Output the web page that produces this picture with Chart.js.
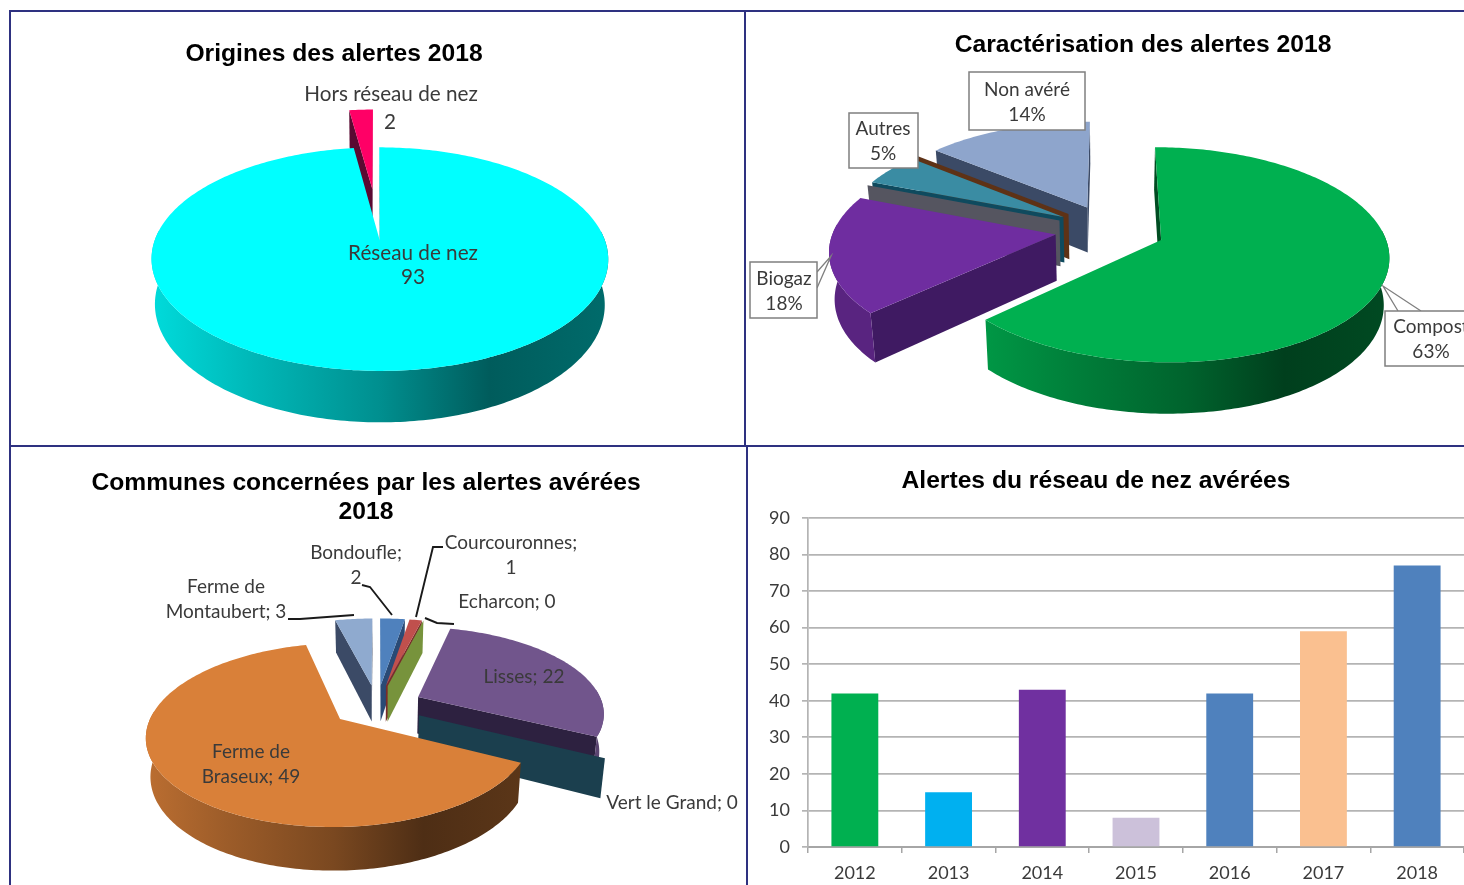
<!DOCTYPE html>
<html lang="fr"><head><meta charset="utf-8"><title>Alertes 2018</title>
<script src="https://cdn.jsdelivr.net/npm/chart.js@4"></script>
<style>
html,body{margin:0;padding:0;background:#fff;overflow:hidden;width:1464px;height:885px}
canvas{position:absolute;display:block;filter:blur(.45px)}
.b{position:absolute;background:#2e3180}
</style></head><body>
<canvas id="c1" style="left:0;top:0" width="744" height="445"></canvas>
<canvas id="c2" style="left:745px;top:0" width="719" height="445"></canvas>
<canvas id="c3" style="left:0;top:446px" width="744" height="439"></canvas>
<canvas id="c4" style="left:728px;top:448px" width="736" height="437"></canvas>
<div class="b" style="left:9px;top:10px;width:1455px;height:2px"></div>
<div class="b" style="left:9px;top:445px;width:1455px;height:2px"></div>
<div class="b" style="left:9px;top:10px;width:2px;height:875px"></div>
<div class="b" style="left:744px;top:10px;width:2px;height:436px"></div>
<div class="b" style="left:746px;top:446px;width:2px;height:439px"></div>
<script>
// ---------- data ----------
const origineLabels = ['Réseau de nez', 'Hors réseau de nez'];
const origineValues = [93, 2];
const caracLabels = ['Compost', 'Biogaz', '', 'Autres', '', 'Non avéré'];
const caracValues = [63, 18, 0, 5, 0, 14];
const communeLabels = ['Bondoufle', 'Courcouronnes', 'Echarcon', 'Lisses', 'Vert le Grand', 'Ferme de Braseux', 'Ferme de Montaubert'];
const communeValues = [2, 1, 0, 22, 0, 49, 3];
const annees = ['2012', '2013', '2014', '2015', '2016', '2017', '2018'];
const alertesValues = [42, 15, 43, 8, 42, 59, 77];

// ---------- styles ----------
const origineColors = ['#00ffff', '#ff0066'];
const origineFaces = ['#006666', '#5a0a32'];
const caracColors = ['#00b050', '#6f2da0', '#555560', '#3a8ca3', '#5e3216', '#8ea5cc'];
const caracFaces = ['#004d22', '#3f1a62', '#555560', '#0f4a5e', '#5e3216', '#3b4a66'];
const communeColors = ['#4f81bd', '#c0504d', '#77933c', '#71558c', '#1b3f4e', '#d98039', '#8faacf'];
const communeFaces = ['#2a4a75', '#7a2c2a', '#77933c', '#2d2140', '#1b3f4e', '#6e3f15', '#3b4a66'];
const alertesColors = ['#00b050', '#00b0f0', '#7030a0', '#ccc1da', '#4f81bd', '#fac090', '#4f81bd'];

const LABEL_FAMILY = 'Lato, Carlito, sans-serif';
const TITLE_FONT = {family: '"Liberation Sans", Arial, sans-serif', weight: 'bold', size: 24.65};

function rgb(h){return [1,3,5].map(i=>parseInt(h.substr(i,2),16));}
function mul(h,f){return 'rgb('+rgb(h).map(v=>Math.round(v*f)).join(',')+')';}

// 3D pie drawing: the angles come from the library's arc elements
const pie3d = {
  id: 'pie3d',
  beforeDatasetDraw(chart){
    const cfg = chart.options.plugins.pie3d;
    const ctx = chart.ctx, meta = chart.getDatasetMeta(0);
    const P = (X,Y,z)=>{const w=1-cfg.p*Y/cfg.R, s=z?cfg.sb:1;
      return [cfg.cx-cfg.ox+s*X/w, cfg.cy-cfg.oy+(s*cfg.k*Y+(z?cfg.D:0))/w];};
    const items = meta.data.map((arc,i)=>{
      const mid=(arc.startAngle+arc.endAngle)/2, e=arc.options.offset;
      return {arc,i,ox:e*Math.cos(mid),oy:e*Math.sin(mid)};
    }).sort((a,b)=>a.oy-b.oy);
    const fill=(pts,col)=>{ctx.beginPath();pts.forEach((q,j)=>j?ctx.lineTo(q[0],q[1]):ctx.moveTo(q[0],q[1]));ctx.closePath();ctx.fillStyle=col;ctx.fill();};
    for(const it of items){
      const {arc,i,ox,oy}=it, a0=arc.startAngle, a1=arc.endAngle;
      const rim=(a,z)=>P(ox+cfg.R*Math.cos(a),oy+cfg.R*Math.sin(a),z);
      const face=(a)=>fill([P(ox,oy,0),rim(a,0),rim(a,1),P(ox,oy,1)],cfg.faces[i]);
      if(-Math.cos(a0)>-0.05) face(a0);
      if(Math.cos(a1)>-0.05) face(a1);
      if(a1-a0<=0) continue;
      const n=Math.max(2,Math.ceil((a1-a0)/(Math.PI/180)));
      const top=[],wT=[],wB=[];
      for(let j=0;j<=n;j++){
        const a=a0+(a1-a0)*j/n;
        top.push(rim(a,0));
        if(Math.sin(a)>-0.1){wT.push(rim(a,0));wB.push(rim(a,1));}
      }
      if(wT.length>1){
        const xs=wT.concat(wB).map(q=>q[0]), xa=Math.min(...xs), xb=Math.max(...xs);
        const base=arc.options.backgroundColor;
        let g;
        if(xb-xa<cfg.R*0.5){g=mul(base,.8);}
        else{g=ctx.createLinearGradient(xa,0,xb,0);
          [[0,.86],[.22,.72],[.5,.56],[.74,.36],[1,.42]].forEach(s=>g.addColorStop(s[0],mul(base,s[1])));}
        fill(wT.concat(wB.reverse()),g);
      }
      fill([P(ox,oy,0)].concat(top),arc.options.backgroundColor);
    }
    return false;
  },
  afterDraw(chart){
    const cfg = chart.options.plugins.pie3d, ctx = chart.ctx;
    ctx.save();
    (cfg.leaders||[]).forEach(l=>{
      ctx.beginPath();l.pts.forEach((q,j)=>j?ctx.lineTo(q[0]-cfg.ox,q[1]-cfg.oy):ctx.moveTo(q[0]-cfg.ox,q[1]-cfg.oy));
      ctx.strokeStyle=l.color;ctx.lineWidth=l.width;ctx.stroke();
    });
    (cfg.boxes||[]).forEach(b=>{
      ctx.fillStyle='#fff';ctx.fillRect(b[0]-cfg.ox,b[1]-cfg.oy,b[2],b[3]);
      ctx.strokeStyle='#7f7f7f';ctx.lineWidth=1.5;ctx.strokeRect(b[0]-cfg.ox,b[1]-cfg.oy,b[2],b[3]);
    });
    ctx.font=cfg.labelSize+'px '+LABEL_FAMILY;ctx.textAlign='center';ctx.textBaseline='middle';
    cfg.notes.forEach(n=>{
      ctx.fillStyle=n.color||'#3a3a3a';
      n.lines.forEach((t,j)=>ctx.fillText(t,n.x-cfg.ox,n.y-cfg.oy+j*(n.gap||24.5)));
    });
    ctx.restore();
  }
};

function pieChart(id,labels,values,colors,titleText,padding,offsets,cfg){
  return new Chart(document.getElementById(id),{
    type:'pie',
    data:{labels,datasets:[{data:values,backgroundColor:colors,borderWidth:0,offset:offsets}]},
    plugins:[pie3d],
    options:{responsive:false,animation:false,events:[],
      layout:{padding},
      plugins:{legend:{display:false},tooltip:{enabled:false},
        title:{display:true,text:titleText,color:'#000',font:Object.assign({lineHeight:1.2},TITLE_FONT),padding:cfg.titlePad},
        pie3d:cfg}}
  });
}

// ---------- chart 1 ----------
pieChart('c1',origineLabels,origineValues,origineColors,'Origines des alertes 2018',{right:76},[55,55],{
  ox:0,oy:0,cx:376,cy:214,R:216,k:.463,p:.16,sb:.985,D:43,faces:origineFaces,labelSize:20.7,
  titlePad:{top:39,bottom:4},
  notes:[
    {x:391,y:94,lines:[origineLabels[1]]},
    {x:390,y:122,lines:[String(origineValues[1])]},
    {x:413,y:253,lines:[origineLabels[0],String(origineValues[0])]}
  ]});

// ---------- chart 2 ----------
pieChart('c2',caracLabels,caracValues,caracColors,'Caractérisation des alertes 2018',{left:77},[55,55,55,55,55,55],{
  ox:745,oy:0,cx:1110,cy:229.8,R:222,k:.463,p:.135,sb:.98,D:46,faces:caracFaces,labelSize:19,
  titlePad:{top:30,bottom:4},
  leaders:[
    {pts:[[817,272],[831,256],[817,288]],color:'#7f7f7f',width:1.3},
    {pts:[[1421,311],[1383,286],[1398,311]],color:'#7f7f7f',width:1.3}
  ],
  boxes:[[969,72,116,58],[849,113,69,55],[750,262,67,56],[1385,311,90,55]],
  notes:[
    {x:1027,y:90,lines:[caracLabels[5],caracValues[5]+'%']},
    {x:883,y:129,lines:[caracLabels[3],caracValues[3]+'%']},
    {x:784,y:279,lines:[caracLabels[1],caracValues[1]+'%']},
    {x:1431,y:327,lines:[caracLabels[0],caracValues[0]+'%']}
  ]});

// ---------- chart 3 ----------
pieChart('c3',communeLabels,communeValues,communeColors,['Communes concernées par les alertes avérées','2018'],{right:12},[46,46,46,46,46,46,46],{
  ox:0,oy:446,cx:377,cy:705.5,R:185,k:.457,p:.17,sb:.98,D:37,faces:communeFaces,labelSize:19,
  titlePad:{top:22,bottom:4},
  leaders:[
    {pts:[[288,619],[300,619],[354,615]],color:'#1a1a1a',width:1.9},
    {pts:[[362,585],[370,587],[392,615]],color:'#1a1a1a',width:1.9},
    {pts:[[443,547],[433,547],[416,617]],color:'#1a1a1a',width:1.9},
    {pts:[[425,618],[437,623],[454,624]],color:'#1a1a1a',width:1.9}
  ],
  notes:[
    {x:356,y:553,lines:[communeLabels[0]+';',String(communeValues[0])]},
    {x:511,y:543,lines:[communeLabels[1]+';',String(communeValues[1])]},
    {x:507,y:602,lines:[communeLabels[2]+'; '+communeValues[2]]},
    {x:226,y:587,lines:['Ferme de','Montaubert; '+communeValues[6]]},
    {x:524,y:677,lines:[communeLabels[3]+'; '+communeValues[3]]},
    {x:251,y:752,lines:['Ferme de','Braseux; '+communeValues[5]]},
    {x:672,y:803,lines:[communeLabels[4]+'; '+communeValues[4]]}
  ]});

// ---------- chart 4 ----------
new Chart(document.getElementById('c4'),{
  type:'bar',
  data:{labels:annees,datasets:[{data:alertesValues,backgroundColor:alertesColors,borderWidth:0,barPercentage:1,categoryPercentage:.5}]},
  options:{responsive:false,animation:false,events:[],
    layout:{padding:{left:0,right:0,top:0,bottom:0}},
    plugins:{legend:{display:false},tooltip:{enabled:false},
      title:{display:true,text:'Alertes du réseau de nez avérées',color:'#000',font:Object.assign({lineHeight:1.2},TITLE_FONT),padding:{top:18,bottom:22.4}}},
    scales:{
      x:{afterFit(s){s.height=38;},
        grid:{display:true,drawOnChartArea:false,drawTicks:true,tickLength:6,color:'#a6a6a6',lineWidth:1.5},
        border:{color:'#a6a6a6',width:2},
        ticks:{color:'#3a3a3a',font:{family:LABEL_FAMILY,size:18},maxRotation:0,padding:9}},
      y:{min:0,max:90,afterFit(s){s.width=80;},
        grid:{color:'#b4b4b4',lineWidth:1.7,tickLength:6},
        border:{color:'#b4b4b4',width:1.7},
        ticks:{stepSize:10,color:'#3a3a3a',font:{family:LABEL_FAMILY,size:18},padding:12}}
    }
  }
});
</script>
</body></html>
